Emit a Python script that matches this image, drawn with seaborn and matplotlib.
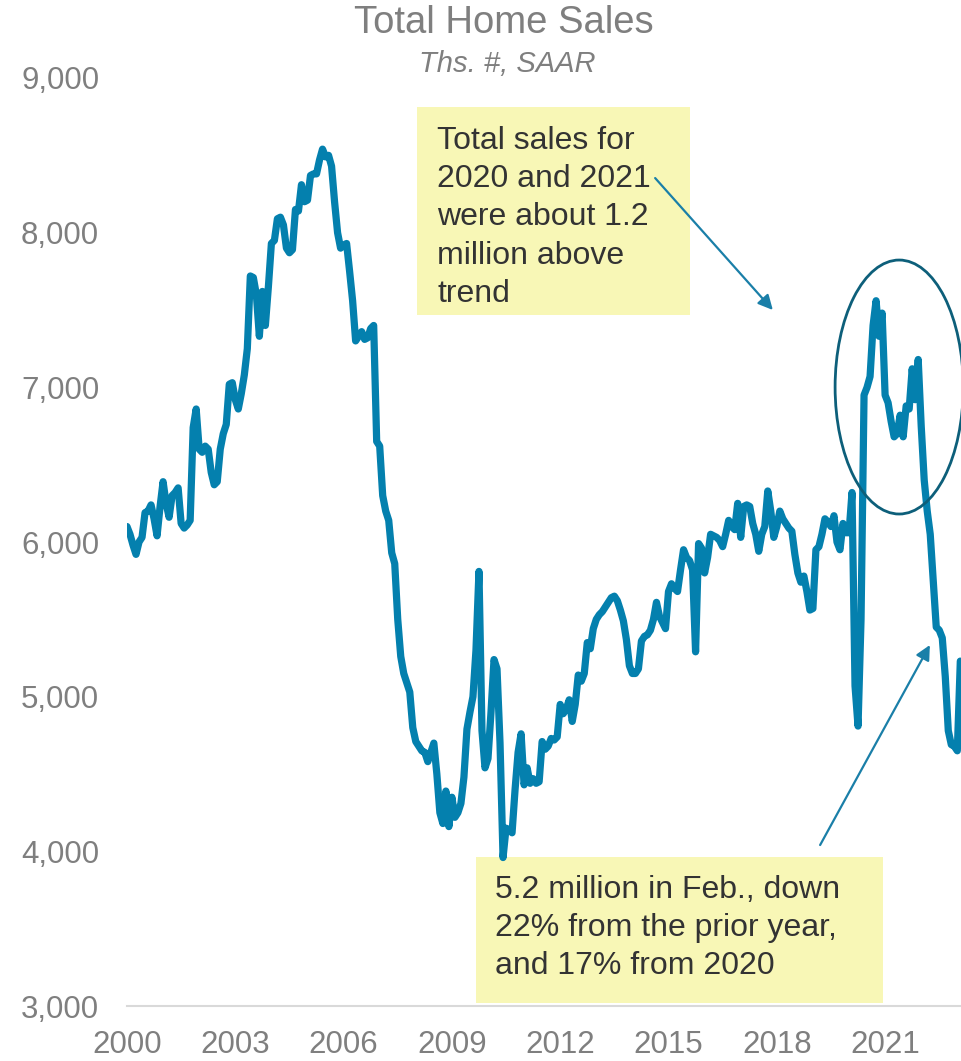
import numpy as np
import pandas as pd
import matplotlib
matplotlib.use("Agg")
import matplotlib.pyplot as plt
from matplotlib.patches import Rectangle, Ellipse
import seaborn as sns

# Total home sales (existing + new), thousands, SAAR, monthly Jan 2000 - Feb 2023
sales_2000 = [6100, 6050, 5980, 5920, 6000, 6030, 6190, 6200, 6240, 6150, 6040, 6230]
sales_2001 = [6390, 6250, 6160, 6300, 6320, 6350, 6120, 6090, 6110, 6140, 6740, 6860]
sales_2002 = [6600, 6580, 6620, 6600, 6450, 6370, 6390, 6600, 6700, 6760, 7020, 7030]
sales_2003 = [6920, 6860, 6960, 7080, 7250, 7720, 7710, 7600, 7330, 7620, 7400, 7650]
sales_2004 = [7930, 7950, 8090, 8100, 8050, 7900, 7870, 7890, 8150, 8140, 8310, 8200]
sales_2005 = [8210, 8370, 8380, 8380, 8470, 8540, 8490, 8500, 8430, 8200, 8000, 7900]
sales_2006 = [7920, 7930, 7750, 7560, 7300, 7330, 7360, 7310, 7320, 7380, 7400, 6650]
sales_2007 = [6620, 6300, 6200, 6140, 5930, 5860, 5500, 5260, 5150, 5090, 5030, 4800]
sales_2008 = [4710, 4680, 4650, 4640, 4580, 4640, 4700, 4500, 4250, 4180, 4390, 4160]
sales_2009 = [4350, 4220, 4250, 4310, 4480, 4790, 4900, 5000, 5300, 5810, 4780, 4540]
sales_2010 = [4600, 4900, 5240, 5180, 4700, 3960, 4150, 4140, 4120, 4400, 4640, 4760]
sales_2011 = [4430, 4540, 4440, 4470, 4440, 4450, 4710, 4660, 4680, 4730, 4720, 4740]
sales_2012 = [4950, 4890, 4920, 4980, 4840, 4950, 5140, 5100, 5150, 5350, 5310, 5440]
sales_2013 = [5500, 5530, 5550, 5580, 5610, 5640, 5650, 5620, 5560, 5490, 5370, 5200]
sales_2014 = [5150, 5150, 5180, 5360, 5390, 5400, 5430, 5500, 5610, 5520, 5480, 5440]
sales_2015 = [5680, 5730, 5700, 5680, 5820, 5950, 5900, 5880, 5820, 5290, 5990, 5960]
sales_2016 = [5800, 5900, 6050, 6040, 6030, 6010, 5970, 6050, 6140, 6100, 6080, 6250]
sales_2017 = [6030, 6230, 6240, 6230, 6120, 6050, 5940, 6050, 6100, 6330, 6200, 6030]
sales_2018 = [6100, 6200, 6150, 6120, 6090, 6070, 5920, 5800, 5740, 5780, 5680, 5560]
sales_2019 = [5570, 5950, 5970, 6050, 6150, 6130, 6100, 6170, 6000, 5950, 6120, 6060]
sales_2020 = [6060, 6320, 5070, 4810, 5500, 6950, 7000, 7070, 7400, 7560, 7330, 7480]
sales_2021 = [6950, 6900, 6780, 6680, 6700, 6820, 6680, 6880, 6860, 7120, 6920, 7180]
sales_2022 = [6750, 6400, 6200, 6050, 5750, 5450, 5430, 5380, 5130, 4780, 4690, 4680]
sales_2023 = [4650, 5230]

sales = (sales_2000 + sales_2001 + sales_2002 + sales_2003 + sales_2004 + sales_2005
         + sales_2006 + sales_2007 + sales_2008 + sales_2009 + sales_2010 + sales_2011
         + sales_2012 + sales_2013 + sales_2014 + sales_2015 + sales_2016 + sales_2017
         + sales_2018 + sales_2019 + sales_2020 + sales_2021 + sales_2022 + sales_2023)

year_ticks = [2000, 2003, 2006, 2009, 2012, 2015, 2018, 2021]
y_ticks = [3000, 4000, 5000, 6000, 7000, 8000, 9000]

title = "Total Home Sales"
subtitle = "Ths. #, SAAR"
note_top = "Total sales for\n2020 and 2021\nwere about 1.2\nmillion above\ntrend"
note_bottom = "5.2 million in Feb., down\n22% from the prior year,\nand 17% from 2020"

df = pd.DataFrame({
    "date": 2000 + np.arange(len(sales)) / 12.0,
    "sales": sales,
})

sns.set_style("white")
plt.rcParams["font.family"] = ["Liberation Sans", "DejaVu Sans"]

LINE = "#0480AE"
ARROW = "#1A7FA8"
GREY = "#7F7F7F"
TEXT = "#333333"
NOTE_BG = "#F8F7B6"

fig = plt.figure(figsize=(9.62, 10.61), dpi=100)
ax = fig.add_axes([0.1320, 0.0518, 0.8680, 0.8747])

sns.lineplot(data=df, x="date", y="sales", ax=ax, color=LINE, linewidth=5.2,
             solid_joinstyle="round", solid_capstyle="round", zorder=3)

ax.set_xlim(2000, 2023.13)
ax.set_ylim(3000, 9000)
ax.set_xlabel("")
ax.set_ylabel("")

ax.set_xticks(year_ticks)
ax.set_xticklabels([str(y) for y in year_ticks])
ax.set_yticks(y_ticks)
ax.set_yticklabels([f"{v:,}" for v in y_ticks])
ax.tick_params(axis="x", colors="#D0D0D0", length=9, width=1.3, direction="out",
               labelcolor=GREY, labelsize=22.5, pad=8)
ax.tick_params(axis="y", length=0, labelcolor=GREY, labelsize=22.5, pad=20)

for side in ["left", "right", "top"]:
    ax.spines[side].set_visible(False)
ax.spines["bottom"].set_color("#D9D9D9")
ax.spines["bottom"].set_linewidth(1.5)

# Title and subtitle
fig.text(0.524, 0.978, title, ha="center", va="center", fontsize=27.5, color=GREY)
fig.text(0.527, 0.940, subtitle, ha="center", va="center", fontsize=21,
         color=GREY, style="italic")

# Upper note box
ax.add_patch(Rectangle((2008.03, 7468), 15.60 - 8.03, 8813 - 7468,
                       facecolor=NOTE_BG, edgecolor="none", zorder=1))
ax.text(2008.60, 8690, note_top, ha="left", va="top", fontsize=23,
        color=TEXT, linespacing=1.36, zorder=2)
ax.annotate("", xy=(2017.89, 7500), xytext=(2014.63, 8353),
            arrowprops=dict(arrowstyle="-|>", color=ARROW, lw=1.6,
                            mutation_scale=22, shrinkA=0, shrinkB=0), zorder=4)

# Lower note box
ax.add_patch(Rectangle((2009.67, 3020), 20.94 - 9.67, 3963 - 3020,
                       facecolor=NOTE_BG, edgecolor="none", zorder=1, clip_on=False))
ax.text(2010.20, 3850, note_bottom, ha="left", va="top", fontsize=23,
        color=TEXT, linespacing=1.36, zorder=2)
ax.annotate("", xy=(2022.24, 5334), xytext=(2019.20, 4041),
            arrowprops=dict(arrowstyle="-|>", color=ARROW, lw=1.6,
                            mutation_scale=22, shrinkA=0, shrinkB=0), zorder=4)

# Circle highlighting the 2020-2021 surge
ax.add_patch(Ellipse((2021.39, 7002), 3.55, 1642, facecolor="none",
                     edgecolor="#0D5F7A", linewidth=2.0, zorder=4, clip_on=False))

fig.savefig("out.png", dpi=100)
